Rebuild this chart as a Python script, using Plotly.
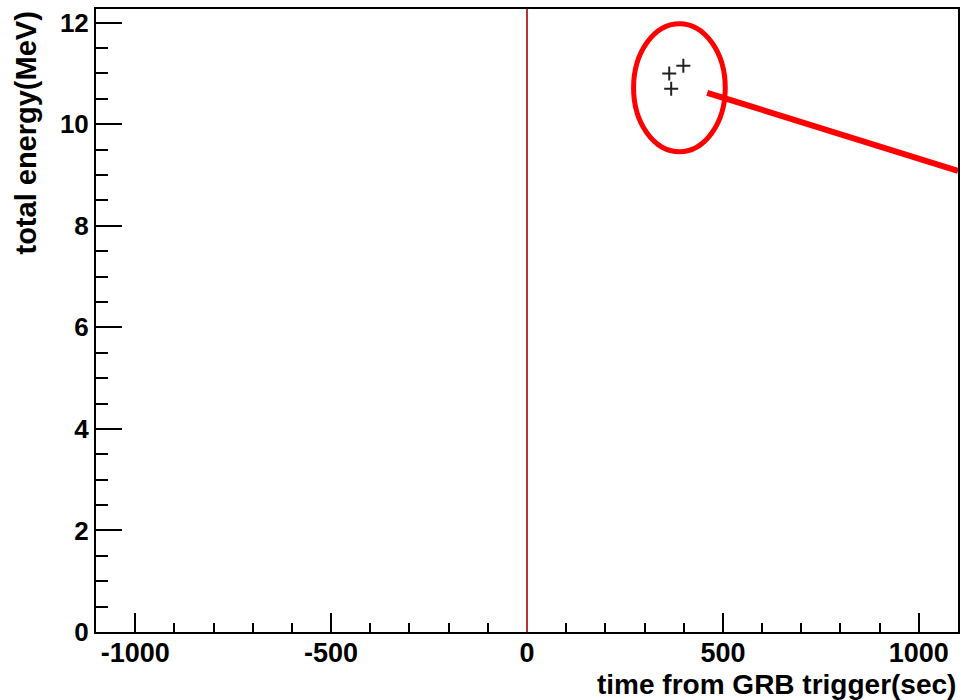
import plotly.graph_objects as go

# Data
time_sec = [363, 399, 368]
energy_mev = [11.0, 11.15, 10.70]

x_range = [-1100, 1100]
y_range = [0, 12.27]
x_tickvals = [-1000, -500, 0, 500, 1000]
x_ticktext = ["-1000", "-500", "0", "500", "1000"]
y_tickvals = [0, 2, 4, 6, 8, 10, 12]
y_ticktext = ["0", "2", "4", "6", "8", "10", "12"]

# Annotation geometry (data units)
trigger_time = 0
ellipse_x = [272, 506]
ellipse_y = [9.46, 11.98]
pointer_x = [460, 1100]
pointer_y = [10.62, 9.08]

FONT = "Liberation Sans, Arial, sans-serif"

fig = go.Figure()
fig.add_trace(go.Scatter(
    x=time_sec, y=energy_mev, mode="markers",
    marker=dict(symbol="cross-thin", size=10, line=dict(color="#222222", width=2)),
    showlegend=False, cliponaxis=False,
))

fig.add_shape(type="line", x0=trigger_time, x1=trigger_time, y0=y_range[0], y1=y_range[1],
              line=dict(color="#b83333", width=2), layer="above")
fig.add_shape(type="circle", x0=ellipse_x[0], x1=ellipse_x[1], y0=ellipse_y[0], y1=ellipse_y[1],
              line=dict(color="#ff0000", width=5), layer="above")
fig.add_shape(type="line", x0=pointer_x[0], x1=pointer_x[1], y0=pointer_y[0], y1=pointer_y[1],
              line=dict(color="#ff0000", width=6), layer="above")

fig.update_layout(
    width=962, height=700,
    margin=dict(l=96, r=2, t=9, b=68),
    paper_bgcolor="white", plot_bgcolor="white",
    font=dict(family=FONT, size=26, color="black"),
    xaxis=dict(
        range=x_range, tickvals=x_tickvals, ticktext=x_ticktext,
        ticks="inside", ticklen=19, tickwidth=1.5, tickcolor="black",
        minor=dict(ticks="inside", ticklen=9, dtick=100, tick0=0, tickwidth=1.5, tickcolor="black"),
        showline=True, linecolor="black", linewidth=2, mirror=True,
        showgrid=False, zeroline=False, ticklabelstandoff=-4,
        tickfont=dict(family=FONT, size=27, color="black", weight="bold"),
    ),
    yaxis=dict(
        range=y_range, tickvals=y_tickvals, ticktext=y_ticktext,
        ticks="inside", ticklen=26, tickwidth=1.5, tickcolor="black",
        minor=dict(ticks="inside", ticklen=12, dtick=0.5, tick0=0, tickwidth=1.5, tickcolor="black"),
        showline=True, linecolor="black", linewidth=2, mirror=True,
        showgrid=False, zeroline=False,
        tickfont=dict(family=FONT, size=26, color="black", weight="bold"),
    ),
    annotations=[
        dict(text="<b>time from GRB trigger(sec)</b>", xref="paper", yref="paper",
             x=1.0, y=0, xanchor="right", yanchor="top", yshift=-35,
             showarrow=False, font=dict(family=FONT, size=28, color="black")),
        dict(text="<b>total energy(MeV)</b>", xref="paper", yref="paper",
             x=0, y=1.0, xanchor="center", yanchor="top", xshift=-71, yshift=-1,
             textangle=-90, showarrow=False, font=dict(family=FONT, size=29, color="black")),
    ],
)

fig.write_html("out.html")
